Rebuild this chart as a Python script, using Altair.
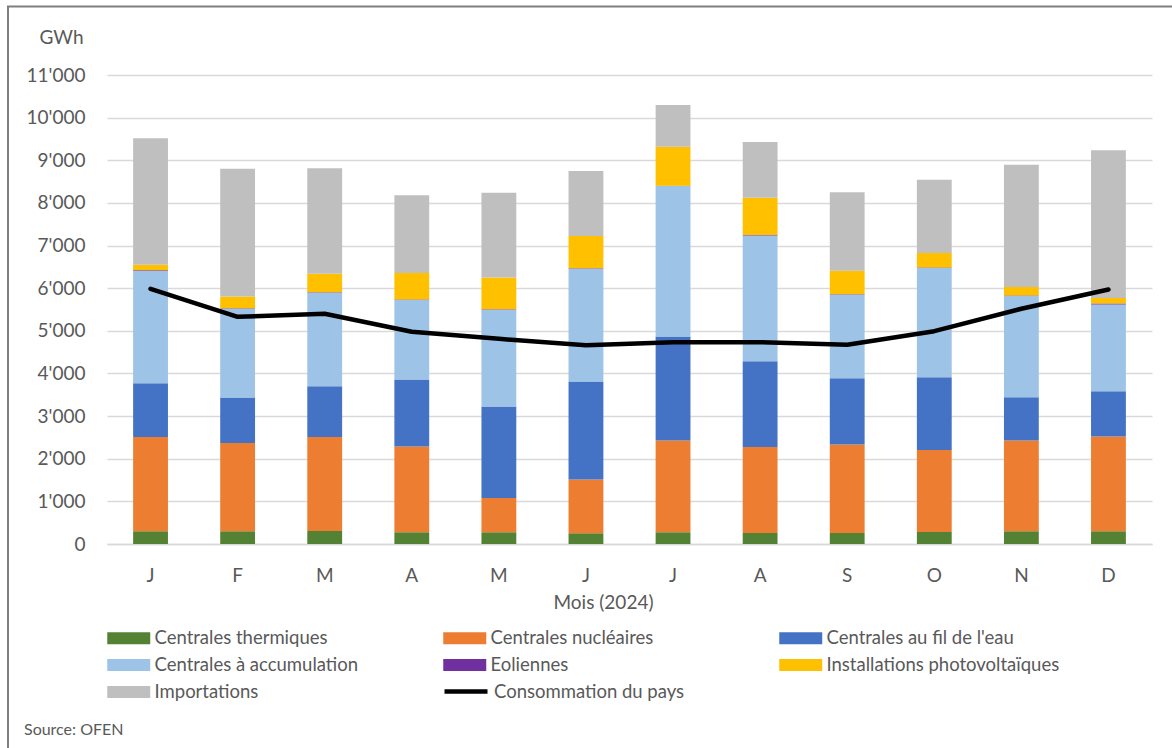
import altair as alt
import pandas as pd

months = ["J", "F", "M", "A", "M", "J", "J", "A", "S", "O", "N", "D"]
series = [
    "Centrales thermiques",
    "Centrales nucléaires",
    "Centrales au fil de l'eau",
    "Centrales à accumulation",
    "Eoliennes",
    "Installations photovoltaïques",
    "Importations",
]
colors = ["#548235", "#ed7d31", "#4472c4", "#9dc3e6", "#7030a0", "#ffc000", "#bfbfbf"]

thermiques = [297, 297, 305, 274, 274, 250, 274, 258, 258, 282, 297, 297]
nucleaires = [2215, 2074, 2207, 2011, 806, 1260, 2152, 2019, 2074, 1925, 2129, 2223]
fil_eau = [1260, 1064, 1189, 1573, 2144, 2301, 2441, 2011, 1557, 1706, 1017, 1064]
accumulation = [2629, 2082, 2191, 1862, 2269, 2645, 3529, 2950, 1956, 2558, 2371, 2034]
eoliennes = [18, 15, 15, 15, 12, 10, 8, 8, 10, 12, 15, 20]
photovoltaique = [131, 274, 431, 619, 747, 756, 916, 876, 554, 340, 196, 129]
importations = [2965, 2997, 2473, 1823, 1988, 1526, 978, 1307, 1839, 1722, 2872, 3467]
consommation = [5986, 5329, 5399, 4977, 4812, 4664, 4734, 4734, 4672, 4992, 5517, 5970]

y_ticks = list(range(0, 11001, 1000))

values = [thermiques, nucleaires, fil_eau, accumulation, eoliennes, photovoltaique, importations]
rows = []
for si, (name, vals) in enumerate(zip(series, values)):
    for mi, v in enumerate(vals):
        rows.append({"m": mi + 1, "serie": name, "ordre": si, "val": v})
bars_df = pd.DataFrame(rows)
line_df = pd.DataFrame({"m": list(range(1, 13)), "val": consommation,
                        "nom": ["Consommation du pays"] * 12})

FONT = "Lato"
GREY = "#595959"
label_expr = "[" + ",".join("'%s'" % m for m in months) + "][datum.value - 1]"

x_enc = alt.X(
    "m:O",
    scale=alt.Scale(paddingInner=0.6, paddingOuter=0.3),
    axis=alt.Axis(
        title="Mois (2024)", labelExpr=label_expr, labelAngle=0, ticks=False,
        labelPadding=22, labelFontSize=19, labelFont=FONT, labelColor=GREY,
        domainColor="#d9d9d9", domainWidth=1.3,
        titleFont=FONT, titleFontSize=19, titleColor=GREY, titleFontWeight="normal",
        titleX=496, titleY=58, titleAlign="center", titleBaseline="middle",
    ),
)

bars = alt.Chart(bars_df).mark_bar().encode(
    x=x_enc,
    y=alt.Y(
        "val:Q", stack="zero",
        scale=alt.Scale(domain=[0, 11000], nice=False),
        axis=alt.Axis(
            values=y_ticks, title="GWh", titleAngle=0, titleX=-24, titleY=-38,
            titleAlign="right", titleBaseline="middle", titleFont=FONT,
            titleFontSize=19, titleColor=GREY, titleFontWeight="normal",
            labelExpr="replace(format(datum.value, ','), ',', \"'\")",
            labelFont=FONT, labelFontSize=19, labelColor=GREY, labelPadding=22,
            ticks=False, domain=False, gridColor="#d9d9d9", gridWidth=1.3,
        ),
    ),
    color=alt.Color(
        "serie:N",
        scale=alt.Scale(domain=series, range=colors),
        legend=alt.Legend(
            title=None, orient="none", legendX=10.75, legendY=552, columns=3,
            direction="horizontal", gridAlign="all",
            symbolType="M-2,-0.56H2V0.56H-2Z", symbolSize=462, symbolStrokeWidth=0,
            symbolOpacity=1, labelFont=FONT, labelFontSize=18.5, labelColor=GREY,
            labelLimit=500, labelOffset=14.75, columnPadding=55, rowPadding=6,
        ),
    ),
    order=alt.Order("ordre:Q", sort="ascending"),
)

line = alt.Chart(line_df).mark_line(strokeWidth=4.5, strokeCap="round", strokeJoin="round").encode(
    x=alt.X("m:O"),
    y=alt.Y("val:Q"),
    stroke=alt.Stroke(
        "nom:N",
        scale=alt.Scale(domain=["Consommation du pays"], range=["#000000"]),
        legend=alt.Legend(
            title=None, orient="none", legendX=335, legendY=592.5,
            symbolType="M-1,0H1", symbolSize=1849, symbolStrokeWidth=4.5,
            labelFont=FONT, labelFontSize=18.5, labelColor=GREY, labelLimit=500,
            labelOffset=4,
        ),
    ),
)

frame_left = alt.Chart(pd.DataFrame({"a": [0]})).mark_rule(color="#7f7f7f", strokeWidth=2).encode(
    x=alt.value(-99), y=alt.value(-69), y2=alt.value(700)
)
frame_top = alt.Chart(pd.DataFrame({"a": [0]})).mark_rule(color="#7f7f7f", strokeWidth=2).encode(
    y=alt.value(-68.5), x=alt.value(-100), x2=alt.value(1100)
)
source = alt.Chart(pd.DataFrame({"t": ["Source: OFEN"]})).mark_text(
    align="left", baseline="middle", font=FONT, fontSize=16, color=GREY
).encode(x=alt.value(-83), y=alt.value(655), text="t:N")

chart = alt.layer(bars, line, frame_left, frame_top, source).resolve_scale(
    color="independent"
).properties(
    width=1045, height=469,
    autosize=alt.AutoSizeParams(type="none"),
    padding={"left": 107, "top": 75, "right": 20, "bottom": 204},
).configure_view(stroke=None)

chart.save("out.html", embed_options={"renderer": "svg", "actions": False})
